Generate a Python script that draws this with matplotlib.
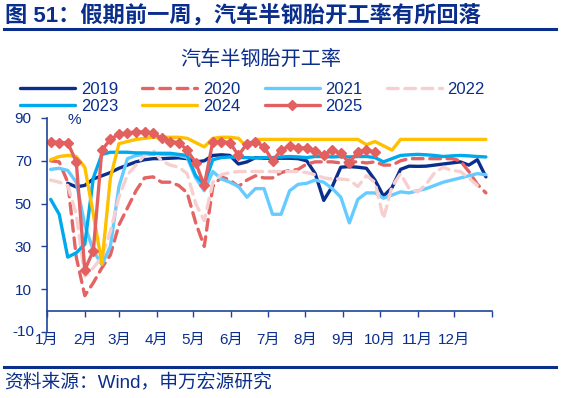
import numpy as np
import matplotlib
matplotlib.use("Agg")
import matplotlib.pyplot as plt
from matplotlib.lines import Line2D
from matplotlib.transforms import blended_transform_factory

plt.rcParams['font.family'] = ['Liberation Sans', 'Noto Sans CJK SC', 'DejaVu Sans']

# ---------------- data ----------------
N = 52
week_days = [7 * k + 3 for k in range(N)]  # day-of-year of weekly observations

y2019 = [None, None, 59.5, 57.8, 58.5, 61.5, 63, 64.5, 66.5, 68, 69.5, 70.5, 71, 71, 71.2, 71.4, 71,
         69.5, 70, 72.5, 72.8, 72.5, 68.5, 69.5, 71.5, 71.2, 71.2, 71.2, 71.2, 71, 70, 64, 51.5, 58,
         67, 67.3, 67, 66.5, 61, 53.5, 57.5, 66, 67.5, 67.4, 67.5, 68, 68.5, 69, 69.5, 68, 70.5, 62.5]
y2020 = [70, 69.5, 60, 25, 7, 13, 20, 26, 40, 48, 56, 62, 62.5, 60, 60, 58.5, 55, 41, 30, 58, 62.5,
         61, 58, 61, 63, 62, 62, 64.5, 65.5, 66, 68.5, 69.5, 69.5, 69.5, 69, 69.5, 69.5, 69, 69.5,
         68, 68, 70, 71, 71, 71, 71, 71, 71, 70, 65, 59, 55]
y2021 = [66, 66.5, 65.5, 60, 40, 28, 21.5, 30, 58, 71, 72.5, 73, 73, 73, 73, 72.5, 71.5, 62, 56, 65,
         61.5, 60, 58, 53, 57, 57, 45, 45, 56, 59, 59.5, 61, 60, 57, 53, 41, 52, 55, 55, 52.5, 54,
         55.5, 55, 56, 57, 58.5, 60, 61, 62, 63, 64, 63.5]
y2022 = [61, 60, 58.5, 45, 16, 20, 25, 37, 53, 63.5, 68, 72.5, 75, 70, 68, 67, 64, 50, 42, 60, 63.5,
         64.5, 65, 65, 65, 65, 65, 65, 65, 65, 64.5, 63.5, 62, 61.5, 61.5, 61, 58, 63, 60, 43, 58,
         64, 57, 55.5, 59, 64.5, 67, 65.5, 65, 62, 58.5, None]
y2023 = [52, 45, 25, 27, 31, 62, 73, 74, 74, 74, 73.7, 73.7, 73.5, 73.5, 73.5, 73, 72.5, 63, 59, 70.5,
         71.5, 71.8, 71.5, 71.5, 71.3, 71.5, 71.5, 71.8, 72, 71.8, 71.5, 72, 72, 71.8, 72, 71.8, 72,
         72, 71.5, 69.5, 71, 72.5, 72.8, 73, 72.8, 72.5, 72, 72.3, 72.5, 72.3, 72, 71.8]
y2024 = [70.5, 72, 72.5, 72, 67, 45, 22, 62, 78, 79, 80, 80.5, 81, 81, 81, 81, 80.5, 78.5, 76.5, 80.5,
         81, 81, 80.5, 76.5, 80, 80, 80, 80, 80, 80, 80, 80, 80, 80, 80, 80, 80, 77.5, 79, 77, 75,
         80, 80, 80, 80, 80, 80, 80, 80, 80, 80, 80]
y2025 = [79, 78.5, 78.5, 69.5, 19, 28, 75, 80, 82.5, 83, 83.5, 83.5, 83, 80.5, 79, 78.5, 75, 69, 58.5,
         79, 79, 78.5, 72.5, 78, 79, 76.5, 70, 75, 77, 76, 76, 74.5, 72.8, 75, 73.5, 69, 74.3, 75, 74]

series_labels = ['2019', '2020', '2021', '2022', '2023', '2024', '2025']
month_starts = [0, 31, 59, 90, 120, 151, 181, 212, 243, 273, 304, 334, 365]
month_labels = ['1月', '2月', '3月', '4月', '5月', '6月', '7月', '8月', '9月', '10月', '11月', '12月', '']
y_ticks = [-10, 10, 30, 50, 70, 90]

# ---------------- style ----------------
DARK = '#0A2E8C'
AXC = '#1F4599'
colors = ['#0A2E8C', '#E46464', '#66CCFF', '#F8CFCF', '#00A9EC', '#FFC000', '#E36060']

W, H = 585, 398
fig = plt.figure(figsize=(W / 100, H / 100), dpi=100)
ax = fig.add_axes([47 / W, 1 - 332 / H, (492 - 47) / W, (332 - 118) / H])


def arr(vals):
    return np.array([np.nan if v is None else v for v in vals], dtype=float)


def xs(vals):
    return np.array(week_days[:len(vals)], dtype=float)


lw = 2.4
data = [y2019, y2020, y2021, y2022, y2023, y2024, y2025]
styles = [dict(ls='-'), dict(ls=(0, (3.2, 2.0)), dash_capstyle='round'), dict(ls='-'),
          dict(ls=(0, (3.2, 2.0)), dash_capstyle='round'), dict(ls='-'), dict(ls='-'),
          dict(ls='-', marker='D', ms=5)]
handles = []
for vals, lab, c, st in zip(data, series_labels, colors, styles):
    h, = ax.plot(xs(vals), arr(vals), color=c, lw=lw, label=lab, solid_capstyle='round',
                 solid_joinstyle='round', **st)
    handles.append(h)

ax.set_xlim(0, 365)
ax.set_ylim(-10, 90)
ax.set_xticks(month_starts)
ax.set_xticklabels(month_labels)
ax.set_yticks(y_ticks)
# the lowest label is drawn separately below so it is never dropped
ax.set_yticklabels(['' if v == y_ticks[0] else str(v) for v in y_ticks])

for s in ['top', 'right']:
    ax.spines[s].set_visible(False)
ax.spines['bottom'].set_position(('data', 0))
ax.spines['left'].set_color(AXC)
ax.spines['bottom'].set_color(AXC)
ax.spines['left'].set_linewidth(1.2)
ax.spines['bottom'].set_linewidth(1.2)
ax.tick_params(axis='x', direction='out', length=4, width=1.0, color=AXC, labelcolor=DARK,
               labelsize=11, pad=12)
ax.tick_params(axis='y', direction='out', length=4, width=1.0, color=AXC, labelcolor=DARK,
               labelsize=11, pad=7)

trans = blended_transform_factory(fig.transFigure, ax.transData)
ax.text(34 / W, y_ticks[0], str(y_ticks[0]), transform=trans, ha='right', va='center',
        color=DARK, fontsize=11, clip_on=False)

ax.text(17, 89, '%', color=DARK, fontsize=11, va='center', ha='left')

# legend (row-major order in a 4-column layout)
fig.text(260.5 / W, 1 - 59 / H, '汽车半钢胎开工率', ha='center', va='center', fontsize=14.5,
         color=DARK)
order = [0, 4, 1, 5, 2, 6, 3]
leg = fig.legend(handles=[handles[i] for i in order], loc='upper left',
                 bbox_to_anchor=(20 / W, 1 - 82 / H), ncol=4,
                 frameon=False, fontsize=12, handlelength=3.3, handletextpad=0.35,
                 columnspacing=1.45, labelspacing=0.12, borderaxespad=0, borderpad=0)
for t in leg.get_texts():
    t.set_color(DARK)

# title and footer
fig.text(5 / W, 1 - 15 / H, '图 51：假期前一周，汽车半钢胎开工率有所回落', ha='left', va='center',
         fontsize=16, fontweight='bold', color=DARK)
fig.add_artist(Line2D([4 / W, 556 / W], [1 - 29 / H] * 2, color=DARK, lw=2.2))
fig.add_artist(Line2D([4 / W, 556 / W], [1 - 367 / H] * 2, color=DARK, lw=2.2))
fig.text(4 / W, 1 - 382 / H, '资料来源：Wind，申万宏源研究', ha='left', va='center', fontsize=13.5,
         color=DARK)

fig.savefig('out.png', dpi=100)
